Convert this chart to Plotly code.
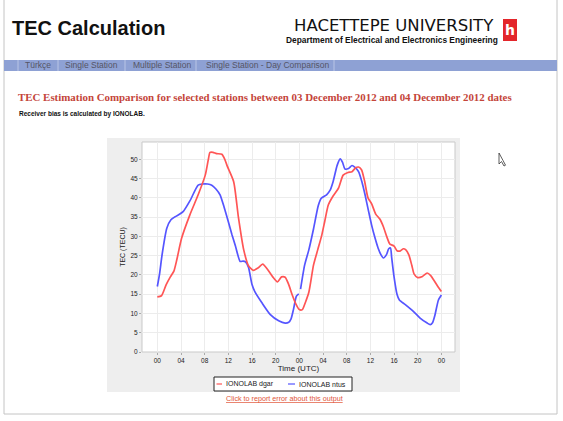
import plotly.graph_objects as go

# ---------------- data (hours since 03 Dec 2012 00 UTC, TEC in TECU) ----------------
dgar_hours = [0, 0.7, 1.5, 2.2, 2.8, 3.3, 4.1, 5.5, 6.9, 8.1, 8.6, 8.9, 9.4, 10.0, 10.9,
              11.4, 11.8, 12.9, 13.7, 14.6, 15.4, 16.2, 17.0, 17.8, 18.6, 19.5, 20.3, 21.0,
              21.6, 22.2, 22.8, 23.4, 24.0, 24.5, 25.0, 25.6, 26.4, 27.1, 27.8, 28.3,
              28.9, 29.7, 30.6, 31.4, 32.2, 32.9, 33.5, 34.0, 34.5, 35.0, 35.6, 36.2,
              36.9, 37.6, 38.2, 38.8, 39.3, 40.0, 40.5, 41.0, 41.6, 42.0, 42.5, 43.0,
              43.4, 44.0, 44.8, 45.6, 46.2, 46.7, 47.4, 48.0]
dgar_tec = [14.3, 14.6, 17.5, 19.5, 21.0, 24.0, 29.5, 35.6, 40.8, 45.9, 49.8, 51.8, 51.8,
            51.5, 51.3, 50.0, 48.3, 44.2, 35.0, 26.5, 22.4, 21.2, 21.8, 22.8, 21.5, 19.5,
            18.2, 19.5, 19.4, 17.5, 14.8, 12.5, 11.0, 11.0, 12.8, 15.5, 22.6, 26.5, 30.4,
            34.0, 38.2, 40.5, 42.5, 45.9, 46.6, 46.8, 47.8, 48.0, 47.3, 44.5, 40.0, 38.5,
            35.8, 34.5, 32.5, 29.8, 28.0, 27.5, 26.3, 26.2, 26.8, 26.5, 25.2, 22.5, 20.2,
            19.3, 19.6, 20.5, 19.8, 18.7, 17.0, 15.7]

ntus_hours = [0, 0.4, 0.8, 1.6, 2.3, 3.0, 3.8, 4.4, 5.5, 6.9, 7.6, 8.5, 9.2, 9.9, 10.6,
              11.3, 12.0, 12.6, 13.2, 14.0, 14.5, 14.9, 15.4, 16.0, 16.5, 17.7, 19.1,
              20.5, 21.6, 22.2, 22.6, 23.0, 23.5, 23.9, None, 24.2, 24.9, 25.6, 26.4,
              27.2, 27.7, 28.6, 29.2, 29.7, 30.4, 30.9, 31.3, 31.7, 32.3, 32.9, 33.4,
              34.0, 34.6, 35.1, 35.7, 36.2, 36.8, 37.3, 37.8, 38.2, 38.7, 39.1, 39.4,
              39.6, 40.0, 40.5, 40.9, 41.9, 43.3, 44.4, 45.6, 46.1, 46.5, 46.9, 47.5, 48.0]
ntus_tec = [17.0, 20.5, 25.2, 32.1, 34.3, 35.1, 35.8, 36.5, 39.2, 43.3, 43.6, 43.6, 43.3,
            42.3, 40.8, 37.5, 33.8, 30.5, 27.5, 23.5, 23.6, 23.4, 22.0, 17.5, 15.6, 12.7,
            9.7, 8.1, 7.5, 7.7, 8.6, 11.0, 14.5, 15.1, None, 16.3, 22.6, 26.5, 32.0, 38.0,
            39.9, 40.8, 42.0, 44.2, 48.5, 50.1, 49.2, 47.5, 47.6, 48.4, 47.9, 46.8, 44.0,
            40.8, 36.5, 33.0, 29.5, 27.0, 25.2, 24.4, 25.2, 26.8, 27.0, 24.5, 19.5, 15.0,
            13.5, 12.3, 10.5, 8.8, 7.5, 7.1, 7.6, 9.5, 13.5, 14.8]

tick_hours = [0, 4, 8, 12, 16, 20, 24, 28, 32, 36, 40, 44, 48]
tick_labels = ["00", "04", "08", "12", "16", "20", "00", "04", "08", "12", "16", "20", "00"]
y_ticks = [0, 5, 10, 15, 20, 25, 30, 35, 40, 45, 50]

series_names = ["IONOLAB dgar", "IONOLAB ntus"]
series_colors = ["#ff5555", "#5555ff"]

# ---------------- page geometry helpers ----------------
W, H = 563, 421
ML, MR, MT, MB = 142, 108, 142, 69
PW, PH = W - ML - MR, H - MT - MB


def px(x):
    return (x - ML) / PW


def py(y):
    return (MT + PH - y) / PH


def rect(x0, y0, x1, y1, fill, line=None, lw=1):
    return dict(type="rect", xref="paper", yref="paper", x0=px(x0), x1=px(x1),
                y0=py(y1), y1=py(y0), fillcolor=fill, layer="below",
                line=dict(color=line or fill, width=lw if line else 0))


def hline(x0, x1, y, color, w=1.5, layer="above"):
    return dict(type="line", xref="paper", yref="paper", x0=px(x0), x1=px(x1),
                y0=py(y), y1=py(y), line=dict(color=color, width=w), layer=layer)


def vline(x, y0, y1, color, w=1, layer="below"):
    return dict(type="line", xref="paper", yref="paper", x0=px(x), x1=px(x),
                y0=py(y0), y1=py(y1), line=dict(color=color, width=w), layer=layer)


def text(x, y, s, size, color="#000", family="Liberation Sans", weight="normal",
         xanchor="left"):
    return dict(xref="paper", yref="paper", x=px(x), y=py(y), text=s, showarrow=False,
                xanchor=xanchor, yanchor="middle",
                font=dict(size=size, color=color, family=family, weight=weight))


fig = go.Figure()
# ntus first so that dgar (red) is drawn on top, as in the reference
fig.add_trace(go.Scatter(x=ntus_hours, y=ntus_tec, mode="lines", name=series_names[1],
                         line=dict(color=series_colors[1], width=1.7, shape="spline",
                                   smoothing=0.6), connectgaps=False))
fig.add_trace(go.Scatter(x=dgar_hours, y=dgar_tec, mode="lines", name=series_names[0],
                         line=dict(color=series_colors[0], width=1.7, shape="spline",
                                   smoothing=0.6), connectgaps=False))

shapes = [
    rect(4, -1, 557, 414, "#ffffff", "#c4c4c4", 1),
    rect(4, 60, 557, 71, "#8ea1d4"),
    rect(107, 138, 460, 392, "#eeeeee"),
    rect(142, 142, 455, 352, "#ffffff", "#c9c9c9", 1),
    rect(503, 19, 517, 41, "#e3262b"),
    rect(214, 377, 352, 391, "#ffffff", "#222222", 1),
]
for sx in [18, 58, 125, 196, 334]:
    shapes.append(vline(sx, 60, 71, "#b9c5e6"))
shapes.append(hline(216.5, 222, 384, series_colors[0], 1.2))
shapes.append(hline(288, 295, 384, series_colors[1], 1.2))
# mouse pointer
shapes.append(dict(type="path", xref="paper", yref="paper", layer="above",
                   path="M {0},{1} L {0},{2} L {3},{4} L {5},{6} L {7},{8} L {9},{10} Z".format(
                       px(499), py(153), py(164), px(501.5), py(161.5), px(504), py(166),
                       px(505.5), py(165.2), px(503.2), py(160.8)),
                   fillcolor="#ffffff", line=dict(color="#333333", width=0.8)))

annotations = [
    text(10, 28, "TEC Calculation", 20, "#111", weight="bold"),
    text(496, 26, "HACETTEPE UNIVERSITY", 16.5, "#111", family="DejaVu Sans",
         xanchor="right"),
    text(500, 40.5, "Department of Electrical and Electronics Engineering", 8.4, "#111",
         weight="bold", xanchor="right"),
    text(510, 30, "h", 14, "#ffffff", family="DejaVu Sans", weight="bold",
         xanchor="center"),
    text(23, 65.5, "Türkçe", 8.5, "#555566"),
    text(63, 65.5, "Single Station", 8.5, "#555566"),
    text(131, 65.5, "Multiple Station", 8.5, "#555566"),
    text(204, 65.5, "Single Station - Day Comparison", 8.5, "#555566"),
    text(16, 97, "TEC Estimation Comparison for selected stations between 03 December 2012 "
         "and 04 December 2012 dates", 10.9, "#c4453a", family="Liberation Serif",
         weight="bold"),
    text(17, 114, "Receiver bias is calculated by IONOLAB.", 6.5, "#111", weight="bold"),
    text(224, 384, series_names[0], 7, "#222"),
    text(297, 384, series_names[1], 7, "#222"),
    text(284.5, 398, "<u>Click to report error about this output</u>", 7.2, "#e0553a",
         xanchor="center"),
]

fig.update_layout(
    width=W, height=H,
    margin=dict(l=ML, r=MR, t=MT, b=MB, pad=0),
    paper_bgcolor="#ffffff",
    plot_bgcolor="rgba(0,0,0,0)",
    showlegend=False,
    font=dict(family="Liberation Sans", color="#333"),
    shapes=shapes,
    annotations=annotations,
    xaxis=dict(range=[-2.59, 50.3], tickvals=tick_hours, ticktext=tick_labels,
               showgrid=True, gridcolor="#ececec", gridwidth=1, zeroline=False,
               showline=False, ticks="outside", ticklen=2, tickcolor="#aaaaaa",
               tickfont=dict(size=6.5, color="#222"),
               title=dict(text="Time (UTC)", font=dict(size=8, color="#222"), standoff=2)),
    yaxis=dict(range=[0, 54.5], tickvals=y_ticks, showgrid=True, gridcolor="#ececec",
               gridwidth=1, zeroline=False, showline=False, ticks="outside", ticklen=2,
               tickcolor="#aaaaaa", tickfont=dict(size=6.5, color="#222"),
               title=dict(text="TEC (TECU)", font=dict(size=7, color="#222"), standoff=4)),
)

fig.write_html("out.html")
